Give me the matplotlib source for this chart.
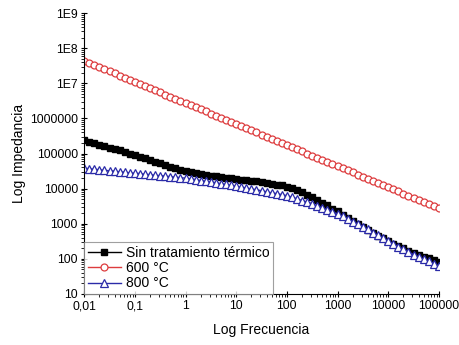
import matplotlib
matplotlib.use("Agg")
import matplotlib.pyplot as plt
import matplotlib.ticker as mticker
import numpy as np

plt.rcParams['font.family'] = ['Liberation Sans', 'DejaVu Sans']

# log10 of frequency, 10 points per decade (0,01 .. 100000 Hz)
log_freq = [-2.0, -1.9, -1.8, -1.7, -1.6, -1.5, -1.4, -1.3, -1.2, -1.1,
            -1.0, -0.9, -0.8, -0.7, -0.6, -0.5, -0.4, -0.3, -0.2, -0.1,
            0.0, 0.1, 0.2, 0.3, 0.4, 0.5, 0.6, 0.7, 0.8, 0.9,
            1.0, 1.1, 1.2, 1.3, 1.4, 1.5, 1.6, 1.7, 1.8, 1.9,
            2.0, 2.1, 2.2, 2.3, 2.4, 2.5, 2.6, 2.7, 2.8, 2.9,
            3.0, 3.1, 3.2, 3.3, 3.4, 3.5, 3.6, 3.7, 3.8, 3.9,
            4.0, 4.1, 4.2, 4.3, 4.4, 4.5, 4.6, 4.7, 4.8, 4.9, 5.0]

# log10 of impedance
log_z_sin = [5.38, 5.34, 5.30, 5.25, 5.21, 5.17, 5.13, 5.09, 5.04, 5.00,
             4.96, 4.91, 4.86, 4.82, 4.77, 4.72, 4.68, 4.63, 4.59, 4.54,
             4.50, 4.47, 4.45, 4.42, 4.40, 4.37, 4.35, 4.33, 4.31, 4.29,
             4.27, 4.25, 4.24, 4.22, 4.21, 4.19, 4.17, 4.14, 4.11, 4.09,
             4.06, 4.01, 3.95, 3.89, 3.83, 3.76, 3.68, 3.60, 3.52, 3.43,
             3.35, 3.26, 3.17, 3.09, 3.00, 2.91, 2.83, 2.75, 2.66, 2.58,
             2.50, 2.43, 2.36, 2.30, 2.23, 2.16, 2.11, 2.06, 2.01, 1.96, 1.91]

log_z_600 = [7.64, 7.58, 7.52, 7.46, 7.40, 7.34, 7.28, 7.22, 7.16, 7.10,
             7.04, 6.98, 6.92, 6.86, 6.80, 6.74, 6.68, 6.62, 6.56, 6.50,
             6.44, 6.38, 6.32, 6.26, 6.20, 6.14, 6.08, 6.02, 5.96, 5.90,
             5.84, 5.78, 5.72, 5.66, 5.60, 5.54, 5.48, 5.42, 5.36, 5.30,
             5.24, 5.18, 5.12, 5.06, 5.00, 4.94, 4.88, 4.82, 4.76, 4.70,
             4.64, 4.58, 4.52, 4.46, 4.40, 4.34, 4.28, 4.22, 4.16, 4.10,
             4.04, 3.98, 3.92, 3.86, 3.80, 3.74, 3.68, 3.62, 3.56, 3.50, 3.44]

log_z_800 = [4.58, 4.57, 4.55, 4.54, 4.52, 4.51, 4.50, 4.48, 4.47, 4.45,
             4.44, 4.43, 4.41, 4.40, 4.38, 4.37, 4.36, 4.34, 4.33, 4.31,
             4.30, 4.28, 4.26, 4.23, 4.21, 4.19, 4.17, 4.14, 4.12, 4.09,
             4.07, 4.04, 4.02, 3.99, 3.97, 3.94, 3.91, 3.88, 3.86, 3.83,
             3.80, 3.76, 3.71, 3.66, 3.62, 3.57, 3.51, 3.45, 3.40, 3.34,
             3.28, 3.21, 3.14, 3.06, 2.99, 2.92, 2.84, 2.75, 2.67, 2.58,
             2.50, 2.42, 2.35, 2.27, 2.20, 2.12, 2.06, 1.99, 1.93, 1.86, 1.80]

x_ticks = [0.01, 0.1, 1, 10, 100, 1000, 10000, 100000]
x_labels = ["0,01", "0,1", "1", "10", "100", "1000", "10000", "100000"]
y_ticks = [10, 100, 1000, 1e4, 1e5, 1e6, 1e7, 1e8, 1e9]
y_labels = ["10", "100", "1000", "10000", "100000", "1000000", "1E7", "1E8", "1E9"]

freq = 10 ** np.array(log_freq)
z_sin = 10 ** np.array(log_z_sin)
z_600 = 10 ** np.array(log_z_600)
z_800 = 10 ** np.array(log_z_800)

fig = plt.figure(figsize=(4.6, 3.45), dpi=100)
ax = fig.add_axes([0.183, 0.148, 0.771, 0.814])

ax.plot(freq, z_sin, color="black", marker="s", markersize=4.8, linewidth=1,
        label="Sin tratamiento térmico")
ax.plot(freq, z_600, color="#dd3c3e", marker="o", markersize=5, linewidth=1,
        markerfacecolor="white", markeredgewidth=0.9, label="600 °C")
ax.plot(freq, z_800, color="#2b2ba8", marker="^", markersize=5.5, linewidth=1,
        markerfacecolor="white", markeredgewidth=0.9, label="800 °C")

ax.set_xscale("log")
ax.set_yscale("log")
ax.set_xlim(0.01, 100000)
ax.set_ylim(10, 1e9)
ax.set_xticks(x_ticks)
ax.set_xticklabels(x_labels)
ax.set_yticks(y_ticks)
ax.set_yticklabels(y_labels)
ax.xaxis.set_minor_locator(mticker.LogLocator(base=10, subs=np.arange(2, 10), numticks=20))
ax.yaxis.set_minor_locator(mticker.LogLocator(base=10, subs=np.arange(2, 10), numticks=20))
ax.xaxis.set_minor_formatter(mticker.NullFormatter())
ax.yaxis.set_minor_formatter(mticker.NullFormatter())

ax.spines["top"].set_visible(False)
ax.spines["right"].set_visible(False)
ax.tick_params(which="major", direction="inout", length=5, width=0.8, labelsize=8.8, pad=2)
ax.tick_params(which="minor", direction="out", length=2.5, width=0.6)

ax.set_xlabel("Log Frecuencia", fontsize=10, labelpad=8)
ax.set_ylabel("Log Impedancia", fontsize=10, labelpad=3)

leg = ax.legend(loc="lower left", borderaxespad=0, fancybox=False, fontsize=10,
                handlelength=2.4, handletextpad=0.35, borderpad=0.25, labelspacing=0.1)
leg.get_frame().set_edgecolor("#888888")
leg.get_frame().set_linewidth(0.8)

fig.savefig("out.png", dpi=100)
